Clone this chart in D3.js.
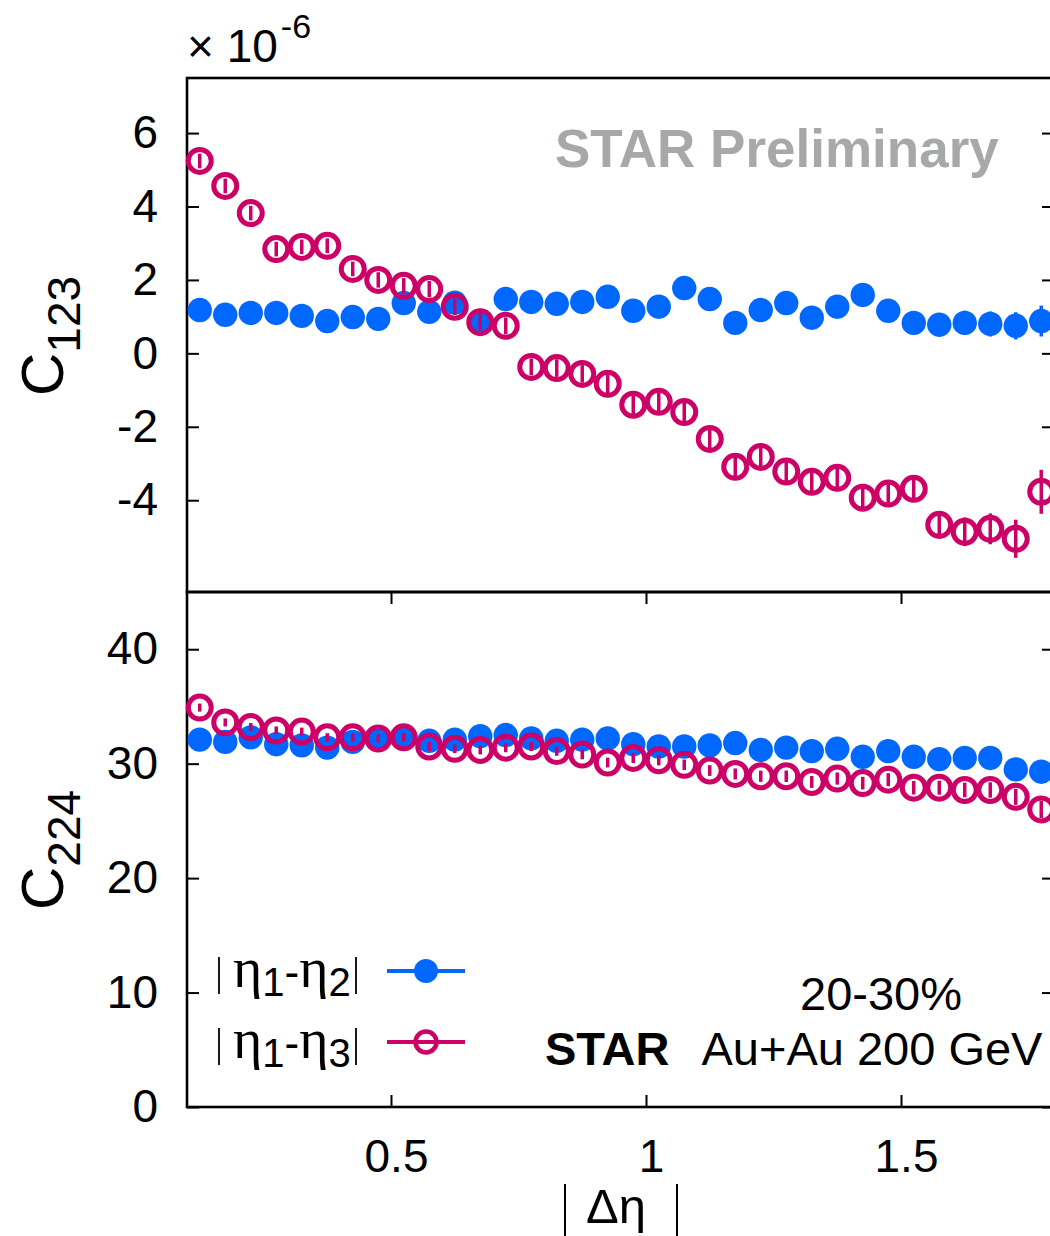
<!DOCTYPE html>
<html>
<head>
<meta charset="utf-8">
<script src="https://cdn.jsdelivr.net/npm/d3@7"></script>
<style>
  html, body { margin: 0; padding: 0; background: #fff; overflow: hidden; }
  svg { display: block; }
  text { font-family: "Liberation Sans", Arial, Helvetica, sans-serif; fill: #000; }
</style>
</head>
<body>
<div id="chart"></div>
<script>
// |Δη| bin centres
const etaBins = [0.125,0.175,0.225,0.275,0.325,0.375,0.425,0.475,0.525,0.575,0.625,0.675,
                 0.725,0.775,0.825,0.875,0.925,0.975,1.025,1.075,1.125,1.175,1.225,1.275,
                 1.325,1.375,1.425,1.475,1.525,1.575,1.625,1.675,1.725,1.775];

// C123 (x 10^-6) vs |eta1-eta2| and |eta1-eta3|
const c123Eta12 = [1.18,1.05,1.10,1.10,1.02,0.88,0.99,0.94,1.37,1.13,1.38,0.88,1.48,1.40,1.35,1.40,1.54,
                   1.16,1.27,1.78,1.48,0.83,1.18,1.37,0.97,1.27,1.59,1.16,0.83,0.78,0.83,0.80,0.75,0.88];
const c123Eta12Err = [0.15,0.15,0.15,0.15,0.15,0.16,0.16,0.17,0.17,0.18,0.18,0.19,0.20,0.20,0.21,0.21,0.22,
                      0.22,0.23,0.24,0.24,0.25,0.26,0.26,0.27,0.28,0.29,0.30,0.31,0.32,0.33,0.34,0.37,0.42];
const c123Eta13 = [5.24,4.56,3.82,2.84,2.90,2.93,2.30,2.00,1.84,1.75,1.27,0.85,0.75,-0.37,-0.40,-0.56,-0.83,
                   -1.40,-1.32,-1.60,-2.33,-3.09,-2.82,-3.22,-3.50,-3.39,-3.93,-3.82,-3.69,-4.67,-4.86,-4.78,-5.05,-3.77];
const c123Eta13Err = [0.20,0.20,0.20,0.20,0.20,0.20,0.20,0.21,0.21,0.22,0.22,0.22,0.23,0.23,0.24,0.24,0.25,
                      0.25,0.26,0.27,0.28,0.29,0.30,0.30,0.31,0.32,0.33,0.34,0.35,0.37,0.39,0.42,0.52,0.60];

// C224 vs |eta1-eta2| and |eta1-eta3|
const c224Eta12 = [32.1,31.9,32.3,31.7,31.6,31.4,31.9,32.3,32.4,32.0,32.1,32.4,32.5,32.2,32.0,32.1,32.2,
                   31.7,31.5,31.5,31.6,31.8,31.2,31.4,31.1,31.3,30.6,31.1,30.6,30.4,30.5,30.5,29.5,29.3];
const c224Eta12Err = [0.30,0.30,0.30,0.30,0.30,0.30,0.30,0.30,0.30,0.30,0.30,0.32,0.32,0.32,0.33,0.33,0.34,
                      0.34,0.35,0.35,0.36,0.36,0.37,0.38,0.38,0.39,0.40,0.41,0.42,0.43,0.44,0.45,0.47,0.50];
const c224Eta13 = [34.9,33.6,33.2,32.9,32.8,32.3,32.3,32.2,32.3,31.5,31.3,31.2,31.4,31.5,31.1,30.8,30.1,
                   30.5,30.3,29.9,29.4,29.1,28.9,28.9,28.4,28.7,28.3,28.6,27.9,27.9,27.7,27.7,27.1,26.0];
const c224Eta13Err = [0.35,0.35,0.35,0.35,0.35,0.36,0.36,0.37,0.37,0.38,0.38,0.39,0.40,0.40,0.41,0.42,0.43,
                      0.44,0.45,0.46,0.47,0.48,0.49,0.50,0.52,0.53,0.55,0.57,0.59,0.61,0.64,0.67,0.70,0.75];

const xTicks = [0.5, 1, 1.5];
const c123Ticks = [-4, -2, 0, 2, 4, 6];
const c224Ticks = [0, 10, 20, 30, 40];

const BLUE = "#0068ff";
const MAGENTA = "#cc0066";

const W = 1050, H = 1236;
const left = 187, right = 1054;
const topY = 78, midY = 592, botY = 1107;

const svg = d3.select("#chart").append("svg")
  .attr("width", W).attr("height", H);

const x = d3.scaleLinear().domain([0.1, 1.8]).range([left, right]);
const yTop = d3.scaleLinear().domain([-6.5, 7.5]).range([midY, topY]);
const yBot = d3.scaleLinear().domain([0, 45]).range([botY, midY]);

const TICK_FS = 46;
const serif = '"Liberation Serif", "DejaVu Serif", serif';

function styleAxis(g) {
  g.select(".domain").remove();
  g.selectAll(".tick line").attr("stroke", "#000").attr("stroke-width", 2);
  g.selectAll(".tick text").attr("font-size", TICK_FS)
    .attr("font-family", '"Liberation Sans", Arial, sans-serif').attr("fill", "#000");
}

// y axes (left labelled, right mirrored)
svg.append("g").attr("transform", `translate(${left},0)`)
  .call(d3.axisLeft(yTop).tickValues(c123Ticks).tickSize(-12).tickPadding(29).tickFormat(d => String(d)))
  .call(styleAxis);
svg.append("g").attr("transform", `translate(${right},0)`)
  .call(d3.axisRight(yTop).tickValues(c123Ticks).tickSize(-12).tickFormat(""))
  .call(styleAxis);
svg.append("g").attr("transform", `translate(${left},0)`)
  .call(d3.axisLeft(yBot).tickValues(c224Ticks).tickSize(-12).tickPadding(29).tickFormat(d => String(d)))
  .call(styleAxis);
svg.append("g").attr("transform", `translate(${right},0)`)
  .call(d3.axisRight(yBot).tickValues(c224Ticks).tickSize(-12).tickFormat(""))
  .call(styleAxis);

// x axes of the lower panel
const xb = svg.append("g").attr("transform", `translate(0,${botY})`)
  .call(d3.axisBottom(x).tickValues(xTicks).tickSize(-12).tickPadding(32).tickFormat(d => String(d)))
  .call(styleAxis);
xb.selectAll(".tick text").attr("dx", 5);
svg.append("g").attr("transform", `translate(0,${midY})`)
  .call(d3.axisTop(x).tickValues(xTicks).tickSize(-12).tickFormat(""))
  .call(styleAxis);

// panel frames
svg.append("rect").attr("x", left).attr("y", topY).attr("width", right - left).attr("height", midY - topY)
  .attr("fill", "none").attr("stroke", "#000").attr("stroke-width", 2.6);
svg.append("rect").attr("x", left).attr("y", midY).attr("width", right - left).attr("height", botY - midY)
  .attr("fill", "none").attr("stroke", "#000").attr("stroke-width", 2.6);

// data series
function drawSeries(yScale, vals, errs, color, open) {
  const g = svg.append("g");
  const pts = etaBins.map((b, i) => ({ b, v: vals[i], e: errs[i] }));
  g.selectAll("line.err").data(pts).join("line").attr("class", "err")
    .attr("x1", d => x(d.b)).attr("x2", d => x(d.b))
    .attr("y1", d => yScale(d.v - d.e)).attr("y2", d => yScale(d.v + d.e))
    .attr("stroke", color).attr("stroke-width", 3.5);
  g.selectAll("circle").data(pts).join("circle")
    .attr("cx", d => x(d.b)).attr("cy", d => yScale(d.v))
    .attr("r", open ? 11.5 : 12.2)
    .attr("fill", open ? "none" : color)
    .attr("stroke", open ? color : "none")
    .attr("stroke-width", open ? 5 : 0);
}

drawSeries(yTop, c123Eta12, c123Eta12Err, BLUE, false);
drawSeries(yTop, c123Eta13, c123Eta13Err, MAGENTA, true);
drawSeries(yBot, c224Eta12, c224Eta12Err, BLUE, false);
drawSeries(yBot, c224Eta13, c224Eta13Err, MAGENTA, true);

// exponent marker of the upper panel
const expo = svg.append("text").attr("x", 187).attr("y", 62).attr("font-size", 46);
expo.append("tspan").text("\u00d7 10");
expo.append("tspan").attr("font-size", 34).attr("dy", -24).attr("dx", 3).text("-6");

// y titles
function yTitle(cx, cy, sub) {
  const t = svg.append("text").attr("transform", `translate(${cx},${cy}) rotate(-90)`)
    .attr("text-anchor", "middle").attr("font-size", 60);
  t.append("tspan").text("C");
  t.append("tspan").attr("font-size", 46).attr("dy", 17).text(sub);
}
yTitle(63, 336, "123");
yTitle(63, 850, "224");

// x title: |Δη|
svg.append("line").attr("x1", 565).attr("x2", 565).attr("y1", 1184).attr("y2", 1236)
  .attr("stroke", "#000").attr("stroke-width", 2);
svg.append("line").attr("x1", 677).attr("x2", 677).attr("y1", 1184).attr("y2", 1236)
  .attr("stroke", "#000").attr("stroke-width", 2);
svg.append("text").attr("x", 616).attr("y", 1223).attr("text-anchor", "middle")
  .attr("font-family", serif).attr("font-size", 49).text("\u0394\u03b7");

// watermark
svg.append("text").attr("x", 555).attr("y", 167).attr("font-size", 53).attr("font-weight", "bold")
  .style("fill", "#a7a9a9").text("STAR Preliminary");

// legend
const legendRows = [
  { a: "1", b: "2", color: BLUE, open: false, y: 971 },
  { a: "1", b: "3", color: MAGENTA, open: true, y: 1042 }
];
legendRows.forEach(r => {
  const base = r.y + 16;
  svg.append("line").attr("x1", 219).attr("x2", 219).attr("y1", r.y - 14).attr("y2", r.y + 23)
    .attr("stroke", "#000").attr("stroke-width", 1.8);
  const t = svg.append("text").attr("x", 233).attr("y", base).attr("font-size", 56);
  t.append("tspan").attr("font-family", serif).text("\u03b7");
  t.append("tspan").attr("font-size", 40).attr("dy", 9).text(r.a);
  t.append("tspan").attr("dy", -9).attr("font-size", 44).text("-");
  t.append("tspan").attr("font-family", serif).text("\u03b7");
  t.append("tspan").attr("font-size", 40).attr("dy", 9).text(r.b);
  svg.append("line").attr("x1", 356).attr("x2", 356).attr("y1", r.y - 14).attr("y2", r.y + 23)
    .attr("stroke", "#000").attr("stroke-width", 1.8);
  svg.append("line").attr("x1", 387).attr("x2", 465).attr("y1", r.y).attr("y2", r.y)
    .attr("stroke", r.color).attr("stroke-width", 4);
  svg.append("circle").attr("cx", 426).attr("cy", r.y).attr("r", r.open ? 10.5 : 12)
    .attr("fill", r.open ? "none" : r.color)
    .attr("stroke", r.open ? r.color : "none").attr("stroke-width", r.open ? 4.5 : 0);
});

// centrality and system labels
svg.append("text").attr("x", 800).attr("y", 1010).attr("font-size", 47).text("20-30%");
const sys = svg.append("text").attr("x", 545).attr("y", 1065).attr("font-size", 47);
sys.append("tspan").attr("font-weight", "bold").text("STAR");
sys.append("tspan").attr("dx", 32).text("Au+Au 200 GeV");
</script>
</body>
</html>
